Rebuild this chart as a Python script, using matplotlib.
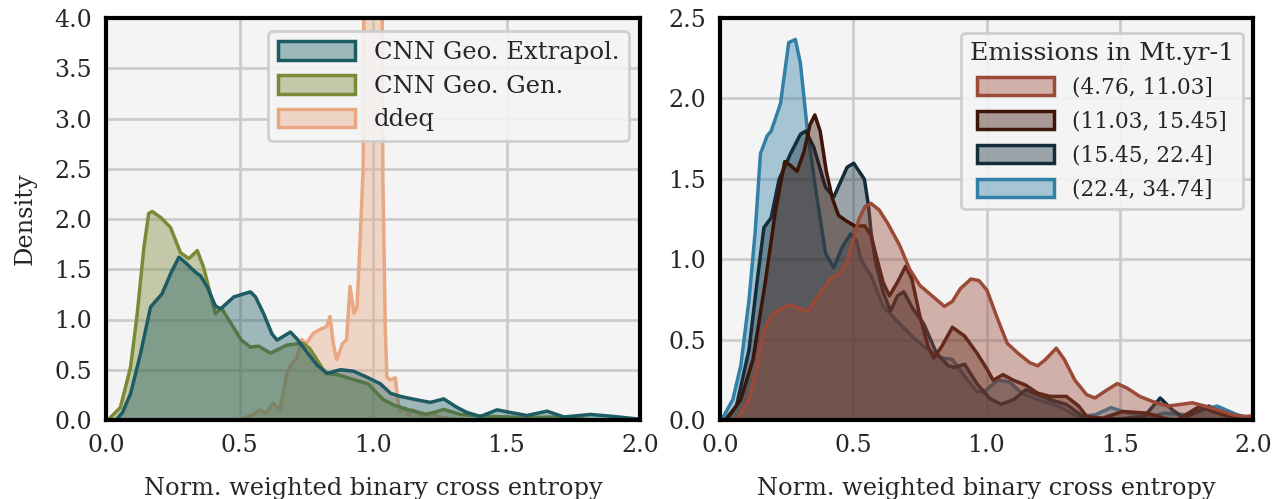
import matplotlib
matplotlib.use("Agg")
import matplotlib.pyplot as plt
from matplotlib.patches import Patch
from matplotlib.colors import to_rgba

plt.rcParams['font.family'] = ['DejaVu Serif']
plt.rcParams['text.color'] = '#262626'
plt.rcParams['axes.labelcolor'] = '#262626'
plt.rcParams['xtick.color'] = '#262626'
plt.rcParams['ytick.color'] = '#262626'

# ---- left panel: model comparison ----
left_labels = ['CNN Geo. Extrapol.', 'CNN Geo. Gen.', 'ddeq']
left_colors = ['#1d5c63', '#7a8a36', '#e9a882']

teal_x = [0.0, 0.034, 0.06, 0.09, 0.127, 0.165, 0.208, 0.24, 0.271, 0.296, 0.333, 0.352, 0.377,
          0.408, 0.427, 0.477, 0.539, 0.558, 0.589, 0.62, 0.639, 0.689, 0.714, 0.751, 0.789, 0.827,
          0.876, 0.926, 0.976, 1.026, 1.064, 1.101, 1.163, 1.213, 1.263, 1.313, 1.35, 1.40, 1.463,
          1.513, 1.575, 1.65, 1.713, 1.813, 1.90, 1.99, 2.0]
teal_y = [0.0, 0.0, 0.08, 0.265, 0.66, 1.13, 1.26, 1.46, 1.625, 1.57, 1.475, 1.44, 1.33,
          1.14, 1.11, 1.23, 1.28, 1.23, 1.06, 0.86, 0.80, 0.88, 0.81, 0.68, 0.55, 0.47,
          0.505, 0.49, 0.43, 0.365, 0.27, 0.24, 0.205, 0.18, 0.215, 0.13, 0.08, 0.04, 0.106,
          0.08, 0.05, 0.093, 0.035, 0.06, 0.04, 0.015, 0.01]

olive_x = [0.0, 0.015, 0.052, 0.09, 0.115, 0.14, 0.158, 0.171, 0.203, 0.24, 0.277, 0.308, 0.34,
           0.363, 0.39, 0.408, 0.43, 0.47, 0.505, 0.539, 0.57, 0.614, 0.675, 0.735, 0.76, 0.78,
           0.82, 0.867, 0.928, 0.98, 1.035, 1.08, 1.127, 1.20, 1.264, 1.325, 1.43, 1.585, 1.69,
           1.8, 2.0]
olive_y = [0.0, 0.03, 0.13, 0.53, 1.06, 1.72, 2.06, 2.08, 2.02, 1.92, 1.67, 1.61, 1.69,
           1.53, 1.25, 1.06, 1.12, 0.95, 0.8, 0.73, 0.74, 0.67, 0.75, 0.77, 0.72, 0.64,
           0.47, 0.455, 0.405, 0.365, 0.21, 0.15, 0.11, 0.06, 0.11, 0.06, 0.04, 0.03, 0.035,
           0.01, 0.0]

ddeq_x = [0.50, 0.527, 0.555, 0.577, 0.60, 0.627, 0.65, 0.665, 0.677, 0.695, 0.714, 0.733, 0.75,
          0.775, 0.80, 0.826, 0.839, 0.852, 0.864, 0.875, 0.886, 0.901, 0.914, 0.929, 0.94,
          0.952, 0.963, 0.966, 0.985, 1.0, 1.015, 1.034, 1.037, 1.046, 1.052, 1.062, 1.075,
          1.084, 1.092, 1.10, 1.12, 1.135, 1.15, 1.18, 1.21, 1.25, 1.30, 1.40]
ddeq_y = [0.0, 0.03, 0.06, 0.10, 0.07, 0.166, 0.10, 0.28, 0.46, 0.56, 0.61, 0.80, 0.76,
          0.86, 0.90, 0.93, 1.03, 0.75, 0.60, 0.68, 0.76, 0.80, 1.33, 1.06, 1.12,
          1.8, 2.5, 4.3, 5.1, 5.4, 5.1, 4.3, 2.4, 0.9, 0.43, 0.40, 0.41,
          0.42, 0.22, 0.08, 0.12, 0.05, 0.1, 0.04, 0.07, 0.03, 0.01, 0.0]

# ---- right panel: emission bins ----
right_title = 'Emissions in Mt.yr-1'
right_labels = ['(4.76, 11.03]', '(11.03, 15.45]', '(15.45, 22.4]', '(22.4, 34.74]']
right_colors = ['#9b4a38', '#3c1408', '#142d3a', '#3280a6']

red_x = [0.0, 0.06, 0.107, 0.137, 0.16, 0.19, 0.221, 0.26, 0.29, 0.328, 0.366, 0.412, 0.45,
         0.473, 0.496, 0.519, 0.542, 0.565, 0.595, 0.626, 0.672, 0.71, 0.748, 0.794, 0.84,
         0.87, 0.90, 0.94, 0.97, 1.0, 1.04, 1.076, 1.115, 1.16, 1.19, 1.22, 1.26, 1.29, 1.33,
         1.374, 1.405, 1.45, 1.489, 1.527, 1.573, 1.634, 1.68, 1.725, 1.771, 1.817, 1.863,
         1.924, 1.97, 2.0]
red_y = [0.0, 0.0, 0.13, 0.34, 0.55, 0.65, 0.69, 0.72, 0.70, 0.68, 0.775, 0.88, 0.92,
         0.98, 1.11, 1.25, 1.33, 1.35, 1.31, 1.23, 1.09, 0.94, 0.84, 0.775, 0.71,
         0.74, 0.82, 0.88, 0.87, 0.81, 0.63, 0.48, 0.42, 0.36, 0.34, 0.38, 0.45, 0.38, 0.25,
         0.16, 0.14, 0.19, 0.23, 0.20, 0.15, 0.11, 0.09, 0.10, 0.11, 0.09, 0.067,
         0.035, 0.025, 0.03]

dbrown_x = [0.0, 0.02, 0.076, 0.122, 0.168, 0.206, 0.241, 0.26, 0.287, 0.313, 0.336, 0.354,
            0.374, 0.397, 0.42, 0.443, 0.473, 0.504, 0.542, 0.565, 0.588, 0.61, 0.634, 0.664,
            0.695, 0.718, 0.748, 0.779, 0.80, 0.83, 0.87, 0.916, 0.962, 1.0, 1.023, 1.06, 1.10,
            1.145, 1.19, 1.237, 1.298, 1.344, 1.374, 1.435, 1.51, 1.6, 1.664, 1.71, 1.756, 1.80,
            1.847, 1.908, 2.0]
dbrown_y = [0.0, 0.0, 0.13, 0.38, 0.86, 1.30, 1.61, 1.59, 1.55, 1.67, 1.84, 1.90,
            1.80, 1.55, 1.38, 1.275, 1.24, 1.21, 1.21, 1.15, 1.00, 0.86, 0.775, 0.86,
            0.96, 0.88, 0.65, 0.46, 0.39, 0.46, 0.58, 0.525, 0.42, 0.32, 0.25, 0.285, 0.25,
            0.22, 0.17, 0.15, 0.15, 0.09, 0.025, 0.015, 0.056, 0.046, 0.015, 0.0, 0.046, 0.09,
            0.056, 0.025, 0.01]

navy_x = [0.0, 0.015, 0.06, 0.107, 0.137, 0.163, 0.19, 0.22, 0.263, 0.30, 0.32, 0.35, 0.394,
          0.425, 0.475, 0.50, 0.54, 0.555, 0.565, 0.58, 0.61, 0.638, 0.664, 0.688, 0.72, 0.763,
          0.81, 0.855, 0.878, 0.916, 0.962, 1.008, 1.053, 1.10, 1.145, 1.19, 1.237, 1.298, 1.36,
          1.42, 1.5, 1.59, 1.65, 1.695, 1.74, 1.832, 1.89, 1.985, 2.0]
navy_y = [0.0, 0.0, 0.09, 0.44, 0.86, 1.20, 1.26, 1.50, 1.66, 1.78, 1.80, 1.70, 1.45,
          1.39, 1.575, 1.60, 1.50, 1.34, 1.17, 1.00, 0.80, 0.68, 0.775, 0.80, 0.70, 0.60,
          0.42, 0.34, 0.33, 0.35, 0.23, 0.14, 0.10, 0.13, 0.19, 0.16, 0.13, 0.10, 0.025,
          0.01, 0.01, 0.025, 0.14, 0.067, 0.015, 0.09, 0.035, 0.015, 0.01]

blue_x = [0.0, 0.008, 0.046, 0.076, 0.107, 0.13, 0.15, 0.175, 0.19, 0.225, 0.256, 0.281, 0.30,
          0.325, 0.356, 0.394, 0.425, 0.457, 0.488, 0.51, 0.527, 0.565, 0.61, 0.656, 0.718,
          0.763, 0.824, 0.87, 0.916, 0.962, 0.99, 1.04, 1.084, 1.13, 1.19, 1.267, 1.34, 1.405,
          1.466, 1.527, 1.618, 1.664, 1.756, 1.863, 1.94, 2.0]
blue_y = [0.0, 0.015, 0.13, 0.34, 0.75, 1.17, 1.66, 1.77, 1.80, 1.97, 2.35, 2.37, 2.22,
          1.82, 1.45, 1.04, 0.95, 1.08, 1.16, 1.12, 1.00, 0.90, 0.71, 0.63, 0.525,
          0.46, 0.39, 0.38, 0.275, 0.18, 0.18, 0.25, 0.24, 0.17, 0.13, 0.09, 0.025, 0.035,
          0.08, 0.046, 0.025, 0.046, 0.035, 0.09, 0.035, 0.01]

left_series = [(teal_x, teal_y), (olive_x, olive_y), (ddeq_x, ddeq_y)]
right_series = [(red_x, red_y), (dbrown_x, dbrown_y), (navy_x, navy_y), (blue_x, blue_y)]

FS = 17
LABEL_FS = 17.4


def style_axes(ax, ymax):
    ax.set_facecolor('#f4f4f4')
    ax.set_xlim(0, 2)
    ax.set_ylim(0, ymax)
    ax.set_xticks([0.0, 0.5, 1.0, 1.5, 2.0])
    ax.set_yticks([i * 0.5 for i in range(int(ymax / 0.5) + 1)])
    ax.xaxis.set_major_formatter(plt.FormatStrFormatter('%.1f'))
    ax.yaxis.set_major_formatter(plt.FormatStrFormatter('%.1f'))
    ax.grid(True, color='#cccccc', lw=2.0)
    ax.set_axisbelow(True)
    ax.tick_params(length=0, pad=10, labelsize=FS)
    for sp in ax.spines.values():
        sp.set_color('black')
        sp.set_linewidth(3)
    ax.set_xlabel('Norm. weighted binary cross entropy', fontsize=LABEL_FS, labelpad=14.5)


def draw(ax, series, colors):
    # first entry ends up on top, like seaborn's layered kde
    for (x, y), c in reversed(list(zip(series, colors))):
        ax.fill_between(x, y, 0, facecolor=to_rgba(c, 0.4), edgecolor=c, lw=2.5,
                        joinstyle='round')


def handles(colors):
    return [Patch(facecolor=to_rgba(c, 0.4), edgecolor=c, lw=2.5) for c in colors]


def frame(lg):
    fr = lg.get_frame()
    fr.set_edgecolor('#cccccc')
    fr.set_linewidth(2)
    fr.set_facecolor('#f4f4f4')


fig = plt.figure(figsize=(12.78, 4.99), dpi=100)
ax1 = fig.add_axes([106 / 1278, 79 / 499, 534 / 1278, 402 / 499])
ax2 = fig.add_axes([720 / 1278, 79 / 499, 533 / 1278, 402 / 499])

style_axes(ax1, 4.0)
style_axes(ax2, 2.5)
draw(ax1, left_series, left_colors)
draw(ax2, right_series, right_colors)
ax1.set_ylabel('Density', fontsize=LABEL_FS, labelpad=13)

l1 = ax1.legend(handles(left_colors), left_labels, loc='upper right',
                bbox_to_anchor=(0.979, 0.968), fontsize=17.5, framealpha=0.9,
                borderaxespad=0, labelspacing=0.45, handlelength=3.2, handleheight=0.82,
                handletextpad=0.75)
l2 = ax2.legend(handles(right_colors), right_labels, loc='upper right',
                bbox_to_anchor=(0.981, 0.963), title=right_title, title_fontsize=18.2,
                fontsize=15.6, framealpha=0.9, borderaxespad=0, labelspacing=0.55,
                handlelength=3.55, handleheight=0.92, handletextpad=0.83)
frame(l1)
frame(l2)

fig.savefig('out.png', dpi=100)
